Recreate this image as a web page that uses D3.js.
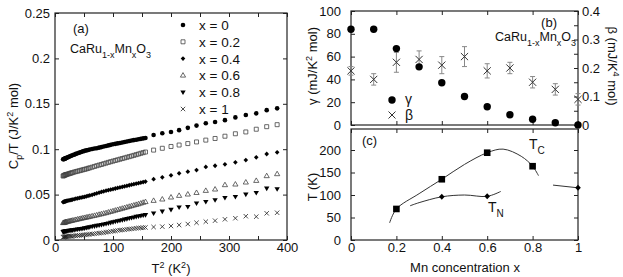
<!DOCTYPE html>
<html><head><meta charset="utf-8">
<script src="https://cdn.jsdelivr.net/npm/d3@7"></script>
<style>body{margin:0;background:#fff}svg{display:block;font-family:"Liberation Sans",Arial,Helvetica,sans-serif}</style>
</head><body><svg id="c" width="623" height="277"></svg>
<script>
// ---------- Panel (a): Cp/T vs T^2 ----------
const t2Dense = [14,15,16,17,18,19,20,22,24,26,28,30,33,36,39,42,45,48,51,54,57,60,64,68,72,76,80,84,88,92,96,100,104,108,112,116,120,124,128,132,136,140,144,148,152,156];
const t2Sparse = [170,185,200,214,229,244,260,276,293,311,329,347,365,383];

const cpDense_x0 = [0.0889,0.0890,0.0893,0.0896,0.0899,0.0902,0.0905,0.0910,0.0916,0.0922,0.0928,0.0933,0.0940,0.0948,0.0955,0.0962,0.0969,0.0976,0.0982,0.0987,0.0992,0.0996,0.1002,0.1007,0.1011,0.1017,0.1023,0.1029,0.1036,0.1042,0.1048,0.1054,0.1059,0.1064,0.1069,0.1074,0.1080,0.1085,0.1090,0.1095,0.1100,0.1104,0.1109,0.1114,0.1119,0.1124];
const cpSparse_x0 = [0.1156,0.1175,0.1190,0.1210,0.1235,0.1260,0.1285,0.1300,0.1320,0.1350,0.1377,0.1395,0.1430,0.1450];

const cpDense_x02 = [0.0705,0.0708,0.0712,0.0715,0.0718,0.0720,0.0722,0.0726,0.0730,0.0734,0.0738,0.0742,0.0748,0.0753,0.0758,0.0763,0.0768,0.0773,0.0778,0.0783,0.0789,0.0795,0.0802,0.0810,0.0818,0.0825,0.0832,0.0840,0.0847,0.0855,0.0862,0.0869,0.0876,0.0883,0.0890,0.0897,0.0904,0.0911,0.0918,0.0925,0.0932,0.0940,0.0947,0.0955,0.0962,0.0969];
const cpSparse_x02 = [0.0990,0.1010,0.1030,0.1046,0.1062,0.1080,0.1100,0.1118,0.1143,0.1170,0.1190,0.1220,0.1248,0.1270];

const cpDense_x04 = [0.0418,0.0420,0.0422,0.0424,0.0426,0.0428,0.0430,0.0433,0.0436,0.0439,0.0442,0.0445,0.0450,0.0455,0.0459,0.0463,0.0467,0.0472,0.0476,0.0481,0.0486,0.0491,0.0498,0.0506,0.0514,0.0521,0.0529,0.0536,0.0543,0.0549,0.0555,0.0561,0.0567,0.0573,0.0579,0.0585,0.0591,0.0597,0.0603,0.0609,0.0615,0.0620,0.0626,0.0632,0.0638,0.0643];
const cpSparse_x04 = [0.0670,0.0690,0.0712,0.0734,0.0752,0.0770,0.0805,0.0818,0.0833,0.0855,0.0880,0.0910,0.0947,0.0966];

const cpDense_x06 = [0.0188,0.0190,0.0192,0.0194,0.0196,0.0198,0.0200,0.0203,0.0206,0.0209,0.0212,0.0215,0.0219,0.0223,0.0228,0.0232,0.0236,0.0241,0.0245,0.0249,0.0253,0.0257,0.0263,0.0268,0.0274,0.0280,0.0286,0.0292,0.0298,0.0305,0.0312,0.0319,0.0326,0.0333,0.0340,0.0347,0.0354,0.0361,0.0368,0.0375,0.0382,0.0389,0.0396,0.0404,0.0412,0.0420];
const cpSparse_x06 = [0.0433,0.0448,0.0470,0.0488,0.0503,0.0520,0.0543,0.0558,0.0606,0.0613,0.0635,0.0653,0.0705,0.0727];

const cpDense_x08 = [0.0090,0.0092,0.0094,0.0096,0.0097,0.0098,0.0099,0.0101,0.0103,0.0105,0.0107,0.0109,0.0112,0.0115,0.0118,0.0121,0.0124,0.0127,0.0131,0.0135,0.0139,0.0143,0.0148,0.0153,0.0158,0.0163,0.0168,0.0173,0.0179,0.0185,0.0191,0.0197,0.0203,0.0209,0.0215,0.0221,0.0227,0.0233,0.0239,0.0245,0.0251,0.0257,0.0262,0.0267,0.0272,0.0277];
const cpSparse_x08 = [0.0294,0.0315,0.0335,0.0360,0.0367,0.0404,0.0422,0.0440,0.0466,0.0477,0.0503,0.0520,0.0569,0.0562];

const cpDense_x1 = [0.0030,0.0032,0.0034,0.0035,0.0036,0.0037,0.0038,0.0039,0.0040,0.0041,0.0042,0.0043,0.0045,0.0047,0.0049,0.0051,0.0053,0.0055,0.0057,0.0059,0.0061,0.0063,0.0066,0.0069,0.0072,0.0075,0.0078,0.0081,0.0085,0.0089,0.0093,0.0097,0.0101,0.0105,0.0108,0.0111,0.0114,0.0117,0.0120,0.0123,0.0126,0.0129,0.0132,0.0134,0.0136,0.0138];
const cpSparse_x1 = [0.0143,0.0147,0.0154,0.0165,0.0176,0.0190,0.0202,0.0213,0.0228,0.0240,0.0262,0.0257,0.0294,0.0300];

const seriesLabels = ["x = 0","x = 0.2","x = 0.4","x = 0.6","x = 0.8","x = 1"];
const xTicksA = [0,100,200,300,400];
const yTicksA = [0,0.05,0.1,0.15,0.2,0.25];
const yTickLabelsA = ["0","0.05","0.1","0.15","0.2","0.25"];

// ---------- Panel (b): gamma & beta vs Mn x ----------
const mnX = [0,0.1,0.2,0.3,0.4,0.5,0.6,0.7,0.8,0.9,1];
const gammaVals = [84,84,67,51,37,25,16,9,5,2,0];
const betaVals = [0.19,0.16,0.22,0.23,0.21,0.24,0.19,0.20,0.15,0.125,0.09];
const betaErr = [0.015,0.02,0.035,0.03,0.03,0.035,0.025,0.02,0.02,0.02,0.02];
const gammaTicks = [0,20,40,60,80,100];
const betaTicks = [0,0.1,0.2,0.3,0.4];
const betaTickLabels = ["0","0.1","0.2","0.3","0.4"];

// ---------- Panel (c): T vs Mn x ----------
const tcX = [0.2,0.4,0.6,0.8];
const tcT = [69,135,194,164];
const tnX = [0.4,0.6,1];
const tnT = [96,97,116];
const tcCurveX = [0.17,0.2,0.3,0.4,0.5,0.6,0.67,0.75,0.8,0.826];
const tcCurveT = [38,69,103,135,168,194,202,186,164,143];
const tnCurveX = [0.26,0.3,0.4,0.5,0.6,0.66];
const tnCurveT = [76,83,96,100,97,108];
const tnCurve2X = [0.89,1];
const tnCurve2T = [122,116];
const mnTicks = [0,0.2,0.4,0.6,0.8,1];
const mnTickLabels = ["0","0.2","0.4","0.6","0.8","1"];
const tTicks = [0,50,100,150,200];

// ================= drawing =================
const svg = d3.select("#c");
const FONT = "Liberation Sans, Arial, Helvetica, sans-serif";
const INK = "#111";

function styleAxis(a, size) {
  a.select(".domain").remove();
  a.attr("font-size", size || 13).attr("font-family", FONT);
  a.selectAll("text").attr("fill", INK);
  a.selectAll("line").attr("stroke", "#222").attr("stroke-width", 1);
  return a;
}
function frame(x0, y0, x1, y1) {
  svg.append("rect").attr("x", x0).attr("y", y0).attr("width", x1 - x0).attr("height", y1 - y0)
    .attr("fill", "none").attr("stroke", "#222").attr("stroke-width", 1.2);
}

// ---- Panel (a)
const xA = d3.scaleLinear().domain([0, 400]).range([55, 287]);
const yA = d3.scaleLinear().domain([0, 0.25]).range([240, 13]);
const minorA = d3.range(0, 401, 50);

styleAxis(svg.append("g").attr("transform", `translate(0,${yA(0)})`)
  .call(d3.axisBottom(xA).tickValues(minorA).tickSizeInner(-4).tickSizeOuter(0).tickPadding(3)
    .tickFormat(d => xTicksA.includes(d) ? String(d) : "")));
styleAxis(svg.append("g").attr("transform", `translate(0,${yA(0.25)})`)
  .call(d3.axisTop(xA).tickValues(minorA).tickSizeInner(-4).tickSizeOuter(0).tickFormat("")));
styleAxis(svg.append("g").attr("transform", `translate(${xA(0)},0)`)
  .call(d3.axisLeft(yA).tickValues(yTicksA).tickSizeInner(-4).tickSizeOuter(0).tickPadding(5)
    .tickFormat((d, i) => yTickLabelsA[i])));
styleAxis(svg.append("g").attr("transform", `translate(${xA(400)},0)`)
  .call(d3.axisRight(yA).tickValues(yTicksA).tickSizeInner(-4).tickSizeOuter(0).tickFormat("")));
frame(xA(0), yA(0.25), xA(400), yA(0));

const symPaths = [
  null,
  "M-2,-2h4v4h-4z",
  "M0,-2.4L2.3,0L0,2.4L-2.3,0Z",
  "M0,-2.8L2.6,1.7L-2.6,1.7Z",
  "M0,2.8L2.7,-1.8L-2.7,-1.8Z",
  "M-2.2,-2.2L2.2,2.2M-2.2,2.2L2.2,-2.2"
];
function drawSym(g, k, x, y, scale) {
  const s = scale || 1;
  if (k === 0) {
    g.append("circle").attr("cx", x).attr("cy", y).attr("r", 2.3 * s).attr("fill", "#000");
    return;
  }
  const p = g.append("path").attr("d", symPaths[k]).attr("transform", `translate(${x},${y}) scale(${s})`);
  if (k === 2 || k === 4) p.attr("fill", "#000");
  else p.attr("fill", "none").attr("stroke", k === 5 ? "#222" : "#444").attr("stroke-width", 0.8 / s);
}

const denseSets = [cpDense_x0, cpDense_x02, cpDense_x04, cpDense_x06, cpDense_x08, cpDense_x1];
const sparseSets = [cpSparse_x0, cpSparse_x02, cpSparse_x04, cpSparse_x06, cpSparse_x08, cpSparse_x1];
const gA = svg.append("g");
denseSets.forEach((ds, k) => {
  const pts = t2Dense.map((t, i) => [t, ds[i]]).concat(t2Sparse.map((t, i) => [t, sparseSets[k][i]]));
  pts.forEach(p => drawSym(gA, k, xA(p[0]), yA(p[1])));
});

// legend (a)
seriesLabels.forEach((lab, k) => {
  const y = 25 + k * 16.8;
  drawSym(svg, k, 183, y);
  svg.append("text").attr("x", 199).attr("y", y + 5).attr("font-size", 13.5).attr("font-family", FONT)
    .attr("fill", INK).text(lab);
});

svg.append("text").attr("x", 73).attr("y", 33).attr("font-size", 13).attr("font-family", FONT).attr("fill", INK).text("(a)");

function formula(x, y, size) {
  const t = svg.append("text").attr("x", x).attr("y", y).attr("font-size", size).attr("font-family", FONT).attr("fill", INK);
  const sub = size * 0.72, sh = size * 0.4;
  t.append("tspan").text("CaRu");
  t.append("tspan").attr("dy", sh).attr("font-size", sub).text("1-x");
  t.append("tspan").attr("dy", -sh).text("Mn");
  t.append("tspan").attr("dy", sh).attr("font-size", sub).text("x");
  t.append("tspan").attr("dy", -sh).text("O");
  t.append("tspan").attr("dy", sh).attr("font-size", sub).text("3");
}
formula(70, 53, 12.5);

// axis titles (a)
{
  const t = svg.append("text").attr("transform", "translate(13,126) rotate(-90)").attr("text-anchor", "middle")
    .attr("dy", "0.35em").attr("font-size", 13).attr("font-family", FONT).attr("fill", INK);
  t.append("tspan").text("C");
  t.append("tspan").attr("dy", 4).attr("font-size", 9).text("p");
  t.append("tspan").attr("dy", -4).text("/T (J/K");
  t.append("tspan").attr("dy", -5).attr("font-size", 9).text("2");
  t.append("tspan").attr("dy", 5).text(" mol)");
  const b = svg.append("text").attr("x", 171).attr("y", 273).attr("text-anchor", "middle")
    .attr("font-size", 13).attr("font-family", FONT).attr("fill", INK);
  b.append("tspan").text("T");
  b.append("tspan").attr("dy", -5).attr("font-size", 9).text("2");
  b.append("tspan").attr("dy", 5).text(" (K");
  b.append("tspan").attr("dy", -5).attr("font-size", 9).text("2");
  b.append("tspan").attr("dy", 5).text(")");
}

// ---- Panel (b)
const xB = d3.scaleLinear().domain([0, 1]).range([351, 578]);
const yG = d3.scaleLinear().domain([0, 100]).range([125, 11]);
const yBeta = d3.scaleLinear().domain([0, 0.4]).range([125, 11]);

styleAxis(svg.append("g").attr("transform", `translate(0,${yG(100)})`)
  .call(d3.axisTop(xB).tickValues(mnTicks).tickSizeInner(-4).tickSizeOuter(0).tickFormat("")));
styleAxis(svg.append("g").attr("transform", `translate(0,${yG(0)})`)
  .call(d3.axisBottom(xB).tickValues(mnTicks).tickSizeInner(-4).tickSizeOuter(0).tickFormat("")));
styleAxis(svg.append("g").attr("transform", `translate(${xB(0)},0)`)
  .call(d3.axisLeft(yG).tickValues(gammaTicks).tickSizeInner(-4).tickSizeOuter(0).tickPadding(10)));
styleAxis(svg.append("g").attr("transform", `translate(${xB(1)},0)`)
  .call(d3.axisRight(yBeta).tickValues(d3.range(0, 0.401, 0.05)).tickSizeInner(-4).tickSizeOuter(0).tickPadding(4)
    .tickFormat(d => { const i = betaTicks.findIndex(v => Math.abs(v - d) < 1e-6); return i >= 0 ? betaTickLabels[i] : ""; })));
frame(xB(0), yG(100), xB(1), yG(0));

const gB = svg.append("g");
mnX.forEach((m, i) => {
  const cx = xB(m), cy = yBeta(betaVals[i]);
  const y1 = yBeta(betaVals[i] + betaErr[i]), y2 = yBeta(betaVals[i] - betaErr[i]);
  gB.append("path").attr("d", `M${cx},${y1}V${y2}M${cx - 2.5},${y1}h5M${cx - 2.5},${y2}h5`)
    .attr("stroke", "#888").attr("stroke-width", 1).attr("fill", "none");
  gB.append("path").attr("d", `M${cx - 3.6},${cy - 3.6}L${cx + 3.6},${cy + 3.6}M${cx - 3.6},${cy + 3.6}L${cx + 3.6},${cy - 3.6}`)
    .attr("stroke", "#333").attr("stroke-width", 1);
});
mnX.forEach((m, i) => {
  gB.append("circle").attr("cx", xB(m)).attr("cy", yG(gammaVals[i])).attr("r", 3.7).attr("fill", "#000");
});
// legend (b)
svg.append("circle").attr("cx", 392).attr("cy", 100).attr("r", 3.7).attr("fill", "#000");
svg.append("text").attr("x", 405).attr("y", 104).attr("font-size", 14).attr("font-family", FONT).attr("fill", INK).text("γ");
svg.append("path").attr("d", "M388.5,111.5L395.5,118.5M388.5,118.5L395.5,111.5").attr("stroke", "#333").attr("stroke-width", 1);
svg.append("text").attr("x", 405).attr("y", 120).attr("font-size", 14).attr("font-family", FONT).attr("fill", INK).text("β");

svg.append("text").attr("x", 557).attr("y", 27).attr("text-anchor", "end").attr("font-size", 13).attr("font-family", FONT).attr("fill", INK).text("(b)");
formula(495, 41, 12.5);

{
  const t = svg.append("text").attr("transform", "translate(312,66) rotate(-90)").attr("text-anchor", "middle")
    .attr("dy", "0.35em").attr("font-size", 13).attr("font-family", FONT).attr("fill", INK);
  t.append("tspan").text("γ (mJ/K");
  t.append("tspan").attr("dy", -5).attr("font-size", 9).text("2");
  t.append("tspan").attr("dy", 5).text(" mol)");
  const r = svg.append("text").attr("transform", "translate(613,66) rotate(90)").attr("text-anchor", "middle")
    .attr("dy", "0.35em").attr("font-size", 13).attr("font-family", FONT).attr("fill", INK);
  r.append("tspan").text("β (mJ/K");
  r.append("tspan").attr("dy", -5).attr("font-size", 9).text("4");
  r.append("tspan").attr("dy", 5).text(" mol)");
}

// ---- Panel (c)
const yC = d3.scaleLinear().domain([0, 246.7]).range([240, 129]);
styleAxis(svg.append("g").attr("transform", `translate(0,${yC(0)})`)
  .call(d3.axisBottom(xB).tickValues(mnTicks).tickSizeInner(-4).tickSizeOuter(0).tickPadding(3)
    .tickFormat((d, i) => mnTickLabels[i])));
styleAxis(svg.append("g").attr("transform", `translate(0,${yC.range()[1]})`)
  .call(d3.axisTop(xB).tickValues(mnTicks).tickSizeInner(-4).tickSizeOuter(0).tickFormat("")));
styleAxis(svg.append("g").attr("transform", `translate(${xB(0)},0)`)
  .call(d3.axisLeft(yC).tickValues(tTicks).tickSizeInner(-4).tickSizeOuter(0).tickPadding(10)));
styleAxis(svg.append("g").attr("transform", `translate(${xB(1)},0)`)
  .call(d3.axisRight(yC).tickValues(tTicks).tickSizeInner(-4).tickSizeOuter(0).tickFormat("")));
frame(xB(0), yC.range()[1], xB(1), yC(0));

const lineC = d3.line().x(d => xB(d[0])).y(d => yC(d[1])).curve(d3.curveCatmullRom.alpha(0.5));
const curveStyle = p => p.attr("fill", "none").attr("stroke", "#333").attr("stroke-width", 1);
curveStyle(svg.append("path").attr("d", lineC(tcCurveX.map((x, i) => [x, tcCurveT[i]]))));
curveStyle(svg.append("path").attr("d", lineC(tnCurveX.map((x, i) => [x, tnCurveT[i]]))));
curveStyle(svg.append("path").attr("d", lineC(tnCurve2X.map((x, i) => [x, tnCurve2T[i]]))));

tcX.forEach((x, i) => {
  svg.append("rect").attr("x", xB(x) - 3.3).attr("y", yC(tcT[i]) - 3.3).attr("width", 6.6).attr("height", 6.6).attr("fill", "#000");
});
tnX.forEach((x, i) => {
  svg.append("path").attr("d", "M0,-3L2.8,0L0,3L-2.8,0Z").attr("transform", `translate(${xB(x)},${yC(tnT[i])})`).attr("fill", "#000");
});

svg.append("text").attr("x", 362).attr("y", 145).attr("font-size", 13).attr("font-family", FONT).attr("fill", INK).text("(c)");
{
  const tc = svg.append("text").attr("x", 529).attr("y", 149).attr("font-size", 14).attr("font-family", FONT).attr("fill", INK);
  tc.append("tspan").text("T");
  tc.append("tspan").attr("dy", 5).attr("font-size", 10).text("C");
  const tn = svg.append("text").attr("x", 488).attr("y", 212).attr("font-size", 14).attr("font-family", FONT).attr("fill", INK);
  tn.append("tspan").text("T");
  tn.append("tspan").attr("dy", 5).attr("font-size", 10).text("N");
  svg.append("text").attr("transform", "translate(312,187) rotate(-90)").attr("text-anchor", "middle")
    .attr("dy", "0.35em").attr("font-size", 13).attr("font-family", FONT).attr("fill", INK).text("T (K)");
  svg.append("text").attr("x", 465).attr("y", 272).attr("text-anchor", "middle")
    .attr("font-size", 13).attr("font-family", FONT).attr("fill", INK).text("Mn concentration x");
}
</script></body></html>
